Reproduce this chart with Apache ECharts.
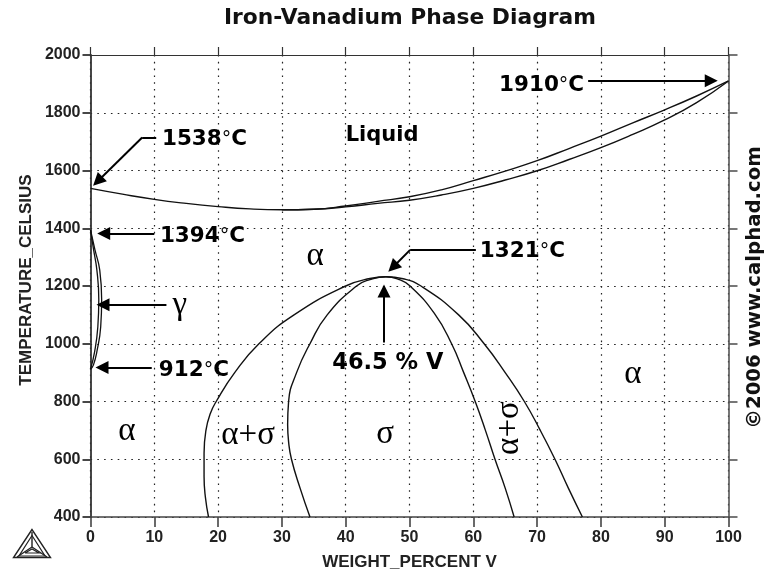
<!DOCTYPE html>
<html>
<head>
<meta charset="utf-8">
<style>html,body{margin:0;padding:0;background:#fff}#c{width:779px;height:585px}</style>
<script src="https://cdn.jsdelivr.net/npm/echarts@6/dist/echarts.min.js"></script>
</head>
<body>
<div id="c"></div>
<script>
var titleText = 'Iron-Vanadium Phase Diagram';
var xName = 'WEIGHT_PERCENT V';
var yName = 'TEMPERATURE_CELSIUS';
var copyrightText = '\u00a92006 www.calphad.com';

var liquidus = [[0,1538],[5,1518],[10,1500],[15,1486],[20,1475],[25,1467],[30,1464],[35,1466],[40,1477],[45,1493],[50,1509],[55,1533],[60,1565],[65,1598],[70,1634],[75,1676],[80,1719],[85,1765],[90,1810],[95,1858],[100,1910]];
var solidus = [[30,1464],[35,1466],[40,1474],[45,1486],[50,1497],[55,1515],[60,1538],[65,1567],[70,1599],[75,1638],[80,1679],[85,1725],[90,1775],[95,1835],[100,1910]];
var alphaSigmaBoundary = [[18.5,400],[18,470],[17.8,540],[17.8,621],[18.1,701],[18.8,759],[19.7,800],[22.6,900],[26.4,1000],[31.9,1100],[40,1200],[43.8,1226],[46.3,1232],[49,1225],[51.8,1200],[57.7,1100],[61.7,1000],[65,900],[68,800],[70.5,700],[72.8,600],[74.9,500],[77.1,400]];
var sigmaBoundary = [[34.4,400],[32.85,500],[31.5,600],[31.05,660],[30.9,720],[31.05,800],[32.3,900],[34.4,1000],[37.1,1100],[41.7,1200],[43.8,1222],[46.3,1232],[48.4,1222],[50.1,1200],[53.9,1105],[56.6,1000],[58.5,900],[60.3,800],[61.9,700],[63.4,600],[65,500],[66.4,400]];
var gammaOuter = [[0,1394],[0.7,1325],[1.45,1255],[1.75,1152],[1.6,1059],[1.0,973],[0.45,926],[0,912]];
var gammaInner = [[0,1394],[0.45,1330],[1.0,1255],[1.3,1152],[1.15,1059],[0.65,973],[0,912]];

var arrowSegments = [
  [[8.1,1714],[1.13,1563]],
  [[10,1382],[2.07,1382]],
  [[11.9,1135],[1.96,1135]],
  [[9.6,918],[1.8,918]],
  [[78,1911],[97.3,1911]],
  [[50.1,1325],[47.4,1265]],
  [[46,1004],[46,1183]]
];
var leaderSegments = [
  [[10.3,1714],[8.1,1714]],
  [[60.4,1325],[50.1,1325]]
];
var tempLabels = [
  [17.87,1713,'1538','C'],
  [17.55,1377,'1394','C'],
  [16.2,913,'912','C'],
  [70.7,1900,'1910','C'],
  [67.7,1325,'1321','C']
];
var liquidLabel = [[45.7,1726,'Liquid']];
var compositionLabel = [[46.6,940,'46.5 % V']];
var phaseLabels = [
  [14,1134,'\u03b3',0],
  [35.2,1304,'\u03b1',0],
  [5.7,698,'\u03b1',0],
  [24.7,684,'\u03b1+\u03c3',0],
  [46.2,687,'\u03c3',0],
  [65.7,708,'\u03b1+\u03c3',90],
  [85,895,'\u03b1',0]
];

var chart = echarts.init(document.getElementById('c'), null, {renderer:'canvas'});
var ink = '#111';
function curve(name, data, width) {
  return {name:name, type:'line', data:data, showSymbol:false, smooth:0.5, silent:true,
    lineStyle:{color:ink, width:width||1.4}, xAxisIndex:0, yAxisIndex:0, z:3, clip:false};
}
function axisBase(pos, len, color, w) {
  return {position:pos, axisLine:{show:true, onZero:false, lineStyle:{color:color, width:w}},
    axisTick:{show:true, length:len, lineStyle:{color:color, width:w}}};
}
function textSeries(name, rows, fontSize, dy) {
  return {name:name, type:'scatter', symbolSize:0, silent:true, z:5, itemStyle:{opacity:1},
    data:rows.map(function(d){return {value:[d[0],d[1]], txt:d[2]};}),
    label:{show:true, position:'inside', opacity:1, offset:[0,dy], formatter:function(p){return p.data.txt;},
      fontFamily:'DejaVu Sans', fontWeight:'bold', fontSize:fontSize, color:'#000'}};
}
var tickFont = {fontFamily:'Liberation Sans', fontWeight:'bold', fontSize:16, color:'#222',
  formatter:function(v){return String(v);}};
var nameFont = {fontFamily:'Liberation Sans', fontWeight:'bold', fontSize:17, color:'#222'};
var gridDots = {color:'#222', width:1.2, type:[1.6,5.2]};

chart.setOption({
  animation:false,
  backgroundColor:'#fff',
  title:{text:titleText, left:219, top:2, textStyle:{fontFamily:'DejaVu Sans', fontWeight:'bold', fontSize:21.8, color:'#111'}},
  grid:{left:90.5, right:50.5, top:55, bottom:68, outerBoundsMode:'none'},
  xAxis:[
    Object.assign(axisBase('bottom',10,'#444',1.6), {type:'value', min:0, max:100, interval:10,
      name:xName, nameLocation:'middle', nameGap:37, nameMoveOverlap:false,
      nameTextStyle:nameFont,
      axisLabel:Object.assign({margin:13}, tickFont),
      splitLine:{show:true, lineStyle:gridDots}}),
    Object.assign(axisBase('top',8,'#333',1.2), {type:'value', min:0, max:100, interval:10,
      axisLabel:{show:false}, splitLine:{show:false}})
  ],
  yAxis:[
    Object.assign(axisBase('left',8,'#333',1.8), {type:'value', min:400, max:2000, interval:200,
      name:yName, nameLocation:'middle', nameGap:56, nameMoveOverlap:false,
      nameTextStyle:Object.assign({padding:[0,0,0,12]}, nameFont),
      axisLabel:Object.assign({margin:10}, tickFont),
      splitLine:{show:true, lineStyle:gridDots}}),
    Object.assign(axisBase('right',9,'#555',1.6), {type:'value', min:400, max:2000, interval:200,
      axisLabel:{show:false}, splitLine:{show:false}})
  ],
  series:[
    curve('Liquidus', liquidus),
    curve('Solidus', solidus),
    curve('Alpha sigma boundary', alphaSigmaBoundary),
    curve('Sigma boundary', sigmaBoundary),
    curve('Gamma outer', gammaOuter, 1.3),
    curve('Gamma inner', gammaInner, 1.3),
    {name:'Arrows', type:'lines', coordinateSystem:'cartesian2d', silent:true, z:4,
      symbol:['none','triangle'], symbolSize:[13,13],
      lineStyle:{color:'#000', width:2, opacity:1, curveness:0},
      data:arrowSegments.map(function(s){return {coords:s};})},
    {name:'Leaders', type:'lines', coordinateSystem:'cartesian2d', silent:true, z:4,
      symbol:['none','none'],
      lineStyle:{color:'#000', width:2, opacity:1, curveness:0},
      data:leaderSegments.map(function(s){return {coords:s};})},
    {name:'Temperature labels', type:'scatter', symbolSize:0, silent:true, z:5, itemStyle:{opacity:1},
      data:tempLabels.map(function(d){return {value:[d[0],d[1]], num:d[2], unit:d[3]};}),
      label:{show:true, position:'inside', opacity:1, offset:[0,2],
        formatter:function(p){return '{b|'+p.data.num+'}{d|\u00b0}{b|'+p.data.unit+'}';},
        rich:{b:{fontFamily:'DejaVu Sans', fontWeight:'bold', fontSize:21.5, color:'#000'},
              d:{fontFamily:'DejaVu Sans', fontWeight:'normal', fontSize:19, color:'#000'}}}},
    textSeries('Liquid label', liquidLabel, 21, 1),
    textSeries('Composition label', compositionLabel, 22.5, 2),
    {name:'Phase labels', type:'scatter', symbolSize:0, silent:true, z:5, itemStyle:{opacity:1},
      data:phaseLabels.map(function(d){return {value:[d[0],d[1]], txt:d[2],
        label:{rotate:d[3]}};}),
      label:{show:true, position:'inside', opacity:1, formatter:function(p){return p.data.txt;},
        fontFamily:'Liberation Serif', fontWeight:'normal', fontSize:33, color:'#000'}}
  ],
  graphic:[
    {type:'text', x:755, y:287.5, rotation:Math.PI/2, silent:true,
      style:{text:copyrightText, fontFamily:'DejaVu Sans', fontWeight:'bold', fontSize:19.7, fill:'#111', align:'center', verticalAlign:'middle'}},
    {type:'group', silent:true, children:[
      {type:'polygon', shape:{points:[[32,529.5],[13.5,557.5],[50.5,557.5]]}, style:{fill:'none', stroke:'#222', lineWidth:1.4}},
      {type:'polygon', shape:{points:[[32,535.5],[19,556],[45,556]]}, style:{fill:'none', stroke:'#222', lineWidth:1.2}},
      {type:'polyline', shape:{points:[[32,532],[32,547],[17,557]]}, style:{fill:'none', stroke:'#222', lineWidth:1.4}},
      {type:'polyline', shape:{points:[[32,547],[47,557]]}, style:{fill:'none', stroke:'#222', lineWidth:1.4}},
      {type:'polyline', shape:{points:[[25,553],[32,549],[39,553],[25,553]]}, style:{fill:'none', stroke:'#222', lineWidth:1.2}}
    ]}
  ]
});
</script>
</body>
</html>
